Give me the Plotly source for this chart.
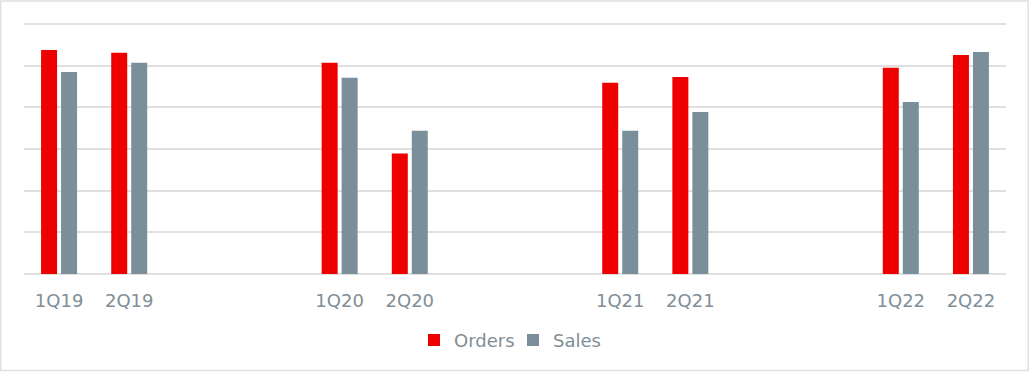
import plotly.graph_objects as go

quarters = ["1Q19", "2Q19", "3Q19", "4Q19", "1Q20", "2Q20", "3Q20", "4Q20",
            "1Q21", "2Q21", "3Q21", "4Q21", "1Q22", "2Q22"]
tick_labels = ["1Q19", "2Q19", "", "", "1Q20", "2Q20", "", "",
               "1Q21", "2Q21", "", "", "1Q22", "2Q22"]
orders = [5.38, 5.31, None, None, 5.07, 2.89, None, None, 4.59, 4.73, None, None, 4.95, 5.26]
sales = [4.85, 5.07, None, None, 4.71, 3.44, None, None, 3.44, 3.89, None, None, 4.13, 5.33]

RED = "#EE0000"
GREY = "#7A8F99"
TEXT = "#7F8E97"
GRID = "#E0E0E0"
BORDER = "#E0E0E0"

x = list(range(len(quarters)))
fig = go.Figure()
fig.add_trace(go.Bar(x=x, y=orders, name="Orders", marker_color=RED, marker_line_width=0))
fig.add_trace(go.Bar(x=x, y=sales, name="Sales", marker_color=GREY, marker_line_width=0))

W, H = 1029, 372
YMAX = 6.05
L, R = 24, 23
BASE = 274.5
ph = 250.5 * YMAX / 6
T = BASE - ph
B = H - BASE
pw = W - L - R

def py(p):
    return (BASE - p) / ph

def px(p):
    return (p - L) / pw

fig.update_layout(
    width=W, height=H,
    margin=dict(l=L, r=R, t=T, b=B, pad=0, autoexpand=False),
    paper_bgcolor="white", plot_bgcolor="white",
    barmode="group", bargap=0.43, bargroupgap=0.2,
    font=dict(family="DejaVu Sans, Verdana, sans-serif", size=18, color=TEXT),
    showlegend=True,
    legend=dict(orientation="h", x=px(414), xanchor="left", y=py(341), yanchor="middle",
                font=dict(size=18, color=TEXT), traceorder="normal",
                entrywidth=54, entrywidthmode="pixels"),
    xaxis=dict(range=[-0.5, len(quarters) - 0.5], tickvals=x, ticktext=tick_labels,
               showgrid=False, zeroline=False, showline=False, ticks="",
               automargin=False, ticklabelstandoff=14,
               tickfont=dict(size=18, color=TEXT)),
    yaxis=dict(range=[0, YMAX], tickvals=[1, 2, 3, 4, 5, 6], showticklabels=False, showgrid=True,
               gridcolor=GRID, gridwidth=2, zeroline=True, zerolinecolor=GRID,
               zerolinewidth=2, showline=False, automargin=False),
)

fig.add_shape(type="rect", xref="paper", yref="paper",
              x0=px(0.75), x1=px(W - 0.75),
              y0=py(H - 0.75), y1=py(0.75),
              line=dict(color=BORDER, width=1.5), fillcolor="rgba(0,0,0,0)", layer="below")

fig.write_html("out.html", config={"displayModeBar": False},
               post_script="document.body.style.margin='0';document.body.style.overflow='hidden';")
